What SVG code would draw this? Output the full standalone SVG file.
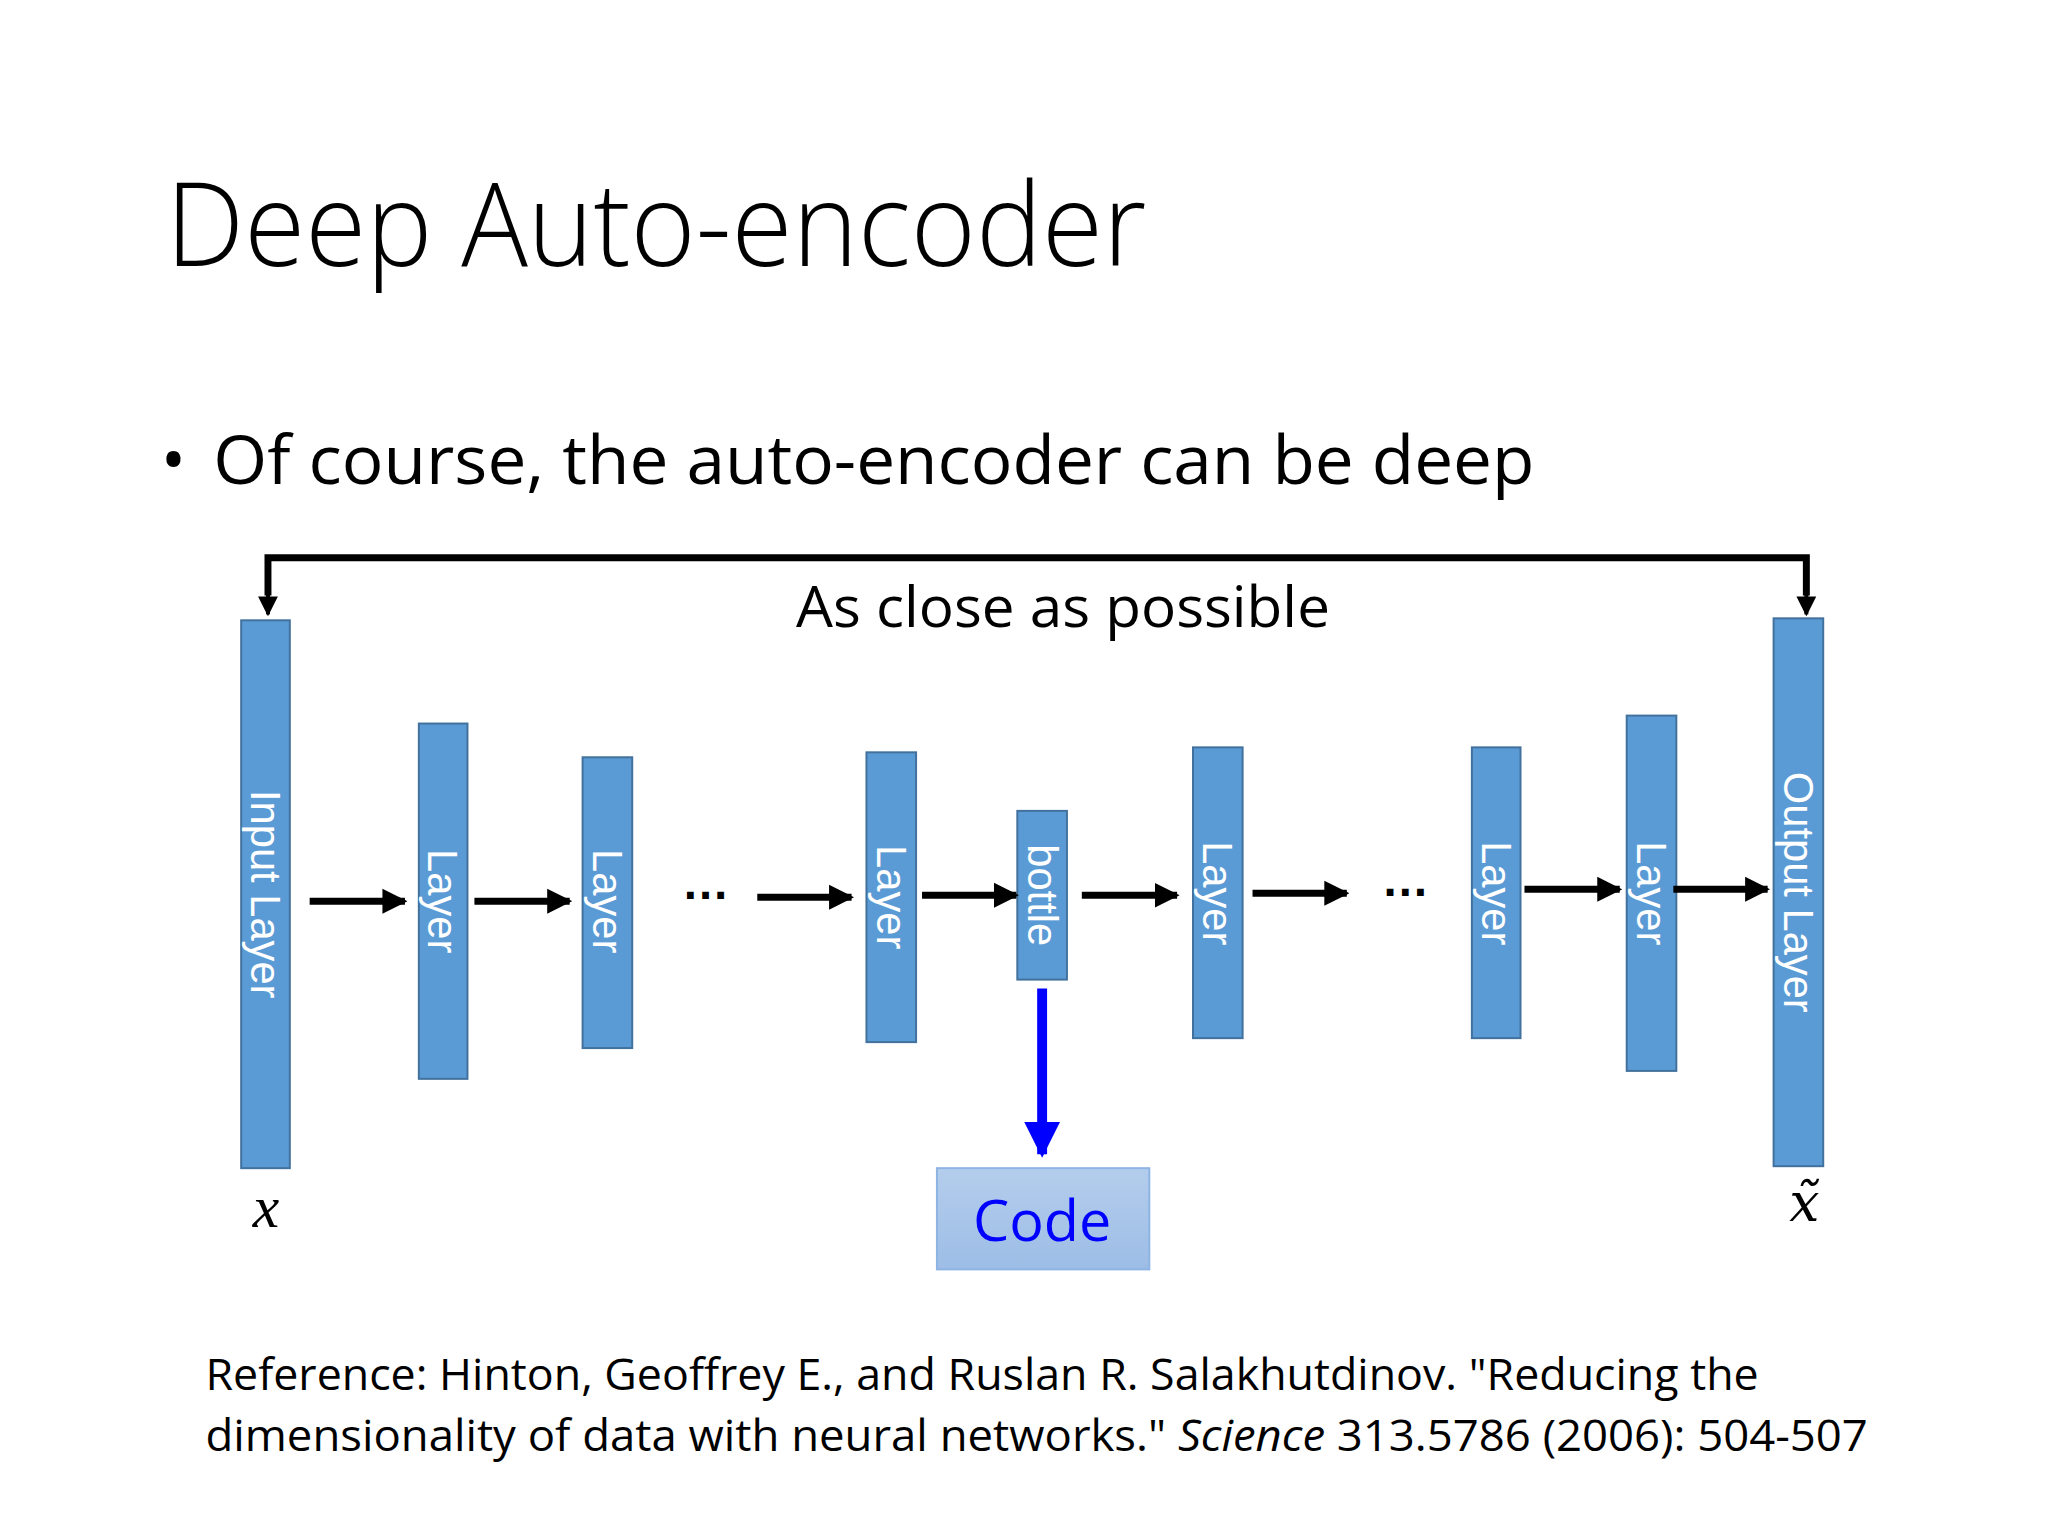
<svg xmlns="http://www.w3.org/2000/svg" width="2048" height="1536" viewBox="0 0 2048 1536">
<defs>
<style>
.t{font-family:"Open Sans","Liberation Sans",sans-serif;fill:#000}
.box rect{fill:#5B9BD5;stroke:#41719C;stroke-width:2}
.box text{font-family:"Liberation Sans",Arial,sans-serif;font-size:42px;fill:#fff;text-anchor:middle;dominant-baseline:central}
.c line{stroke:#000;stroke-width:7;marker-end:url(#ah)}
</style>
<marker id="ah" viewBox="0 0 10 10" refX="9" refY="5" markerWidth="3.6" markerHeight="3.8" orient="auto" markerUnits="strokeWidth"><path d="M0,0L10,5L0,10z" fill="#000"/></marker>
<marker id="ah2" viewBox="0 0 10 10" refX="9" refY="5" markerWidth="5" markerHeight="5" orient="auto" markerUnits="strokeWidth"><path d="M0,0L10,5L0,10z" fill="#000"/></marker>
<marker id="bh" viewBox="0 0 10 10" refX="9" refY="5" markerWidth="4" markerHeight="3.6" orient="auto" markerUnits="strokeWidth"><path d="M0,0L10,5L0,10z" fill="#0000FF"/></marker>
<linearGradient id="cg" x1="0" y1="0" x2="0" y2="1"><stop offset="0" stop-color="#B4CDEC"/><stop offset="1" stop-color="#9DBDE6"/></linearGradient>
</defs>
<rect width="2048" height="1536" fill="#fff"/>
<g transform="scale(0.9925)">
<text class="t" x="167" y="268" font-size="118" font-weight="300" textLength="988" lengthAdjust="spacingAndGlyphs">Deep Auto-encoder</text>
<text class="t" x="162" y="488" font-size="68">•</text>
<text class="t" x="215" y="488" font-size="68" textLength="1331" lengthAdjust="spacingAndGlyphs">Of course, the auto-encoder can be deep</text>
<text class="t" x="1071" y="632" font-size="58" text-anchor="middle" textLength="538" lengthAdjust="spacingAndGlyphs">As close as possible</text>

<g id="input" class="box"><rect x="243" y="625" width="49" height="552"/><text transform="translate(268,901) rotate(90)">Input Layer</text></g>
<g id="layer1" class="box"><rect x="422" y="729" width="49" height="358"/><text transform="translate(446,908) rotate(90)">Layer</text></g>
<g id="layer2" class="box"><rect x="587" y="763" width="50" height="293"/><text transform="translate(612,908) rotate(90)">Layer</text></g>
<g id="layer3" class="box"><rect x="873" y="758" width="50" height="292"/><text transform="translate(898,904) rotate(90)">Layer</text></g>
<g id="bottle" class="box"><rect x="1025" y="817" width="50" height="170"/><text transform="translate(1050,902) rotate(90)">bottle</text></g>
<g id="layer4" class="box"><rect x="1202" y="753" width="50" height="293"/><text transform="translate(1227,900) rotate(90)">Layer</text></g>
<g id="layer5" class="box"><rect x="1483" y="753" width="49" height="293"/><text transform="translate(1508,900) rotate(90)">Layer</text></g>
<g id="layer6" class="box"><rect x="1639" y="721" width="50" height="358"/><text transform="translate(1664,900) rotate(90)">Layer</text></g>
<g id="output" class="box"><rect x="1787" y="623" width="50" height="552"/><text transform="translate(1812,899) rotate(90)">Output Layer</text></g>

<g id="code"><rect x="944" y="1177" width="214" height="102" fill="url(#cg)" stroke="#8EB4E3" stroke-width="2"/><text x="1050" y="1250" font-family="'Open Sans','Liberation Sans',sans-serif" font-size="58" fill="#0000FF" text-anchor="middle">Code</text></g>

<text x="711" y="906" font-family="'Liberation Sans',sans-serif" font-size="48" font-weight="bold" text-anchor="middle">…</text>
<text x="1416" y="903" font-family="'Liberation Sans',sans-serif" font-size="48" font-weight="bold" text-anchor="middle">…</text>

<g id="connectors">
<polyline points="270,600 270,562 1820,562 1820,600" fill="none" stroke="#000" stroke-width="7"/>
<line x1="270" y1="562" x2="270" y2="619" stroke="#000" stroke-width="4" marker-end="url(#ah2)"/>
<line x1="1820" y1="562" x2="1820" y2="619" stroke="#000" stroke-width="4" marker-end="url(#ah2)"/>
<g class="c">
<line x1="312" y1="908" x2="408" y2="908"/>
<line x1="478" y1="908" x2="574" y2="908"/>
<line x1="763" y1="904" x2="858" y2="904"/>
<line x1="929" y1="902" x2="1024" y2="902"/>
<line x1="1090" y1="902" x2="1186" y2="902"/>
<line x1="1262" y1="900" x2="1357" y2="900"/>
<line x1="1536" y1="896" x2="1632" y2="896"/>
<line x1="1686" y1="896" x2="1781" y2="896"/>
</g>
<line x1="1050" y1="996" x2="1050" y2="1163" stroke="#0000FF" stroke-width="10" marker-end="url(#bh)"/>
</g>

<text x="268" y="1236" font-family="'Liberation Serif',serif" font-style="italic" font-size="60" text-anchor="middle">x</text>
<text x="1818" y="1230" font-family="'DejaVu Serif',serif" font-style="italic" font-size="54" text-anchor="middle">x̃</text>

<text class="t" x="207" y="1400" font-size="44" textLength="1565" lengthAdjust="spacingAndGlyphs">Reference: Hinton, Geoffrey E., and Ruslan R. Salakhutdinov. "Reducing the</text>
<text class="t" x="207" y="1462" font-size="44" textLength="1675" lengthAdjust="spacingAndGlyphs">dimensionality of data with neural networks." <tspan font-style="italic">Science</tspan> 313.5786 (2006): 504-507</text>
</g>
</svg>
